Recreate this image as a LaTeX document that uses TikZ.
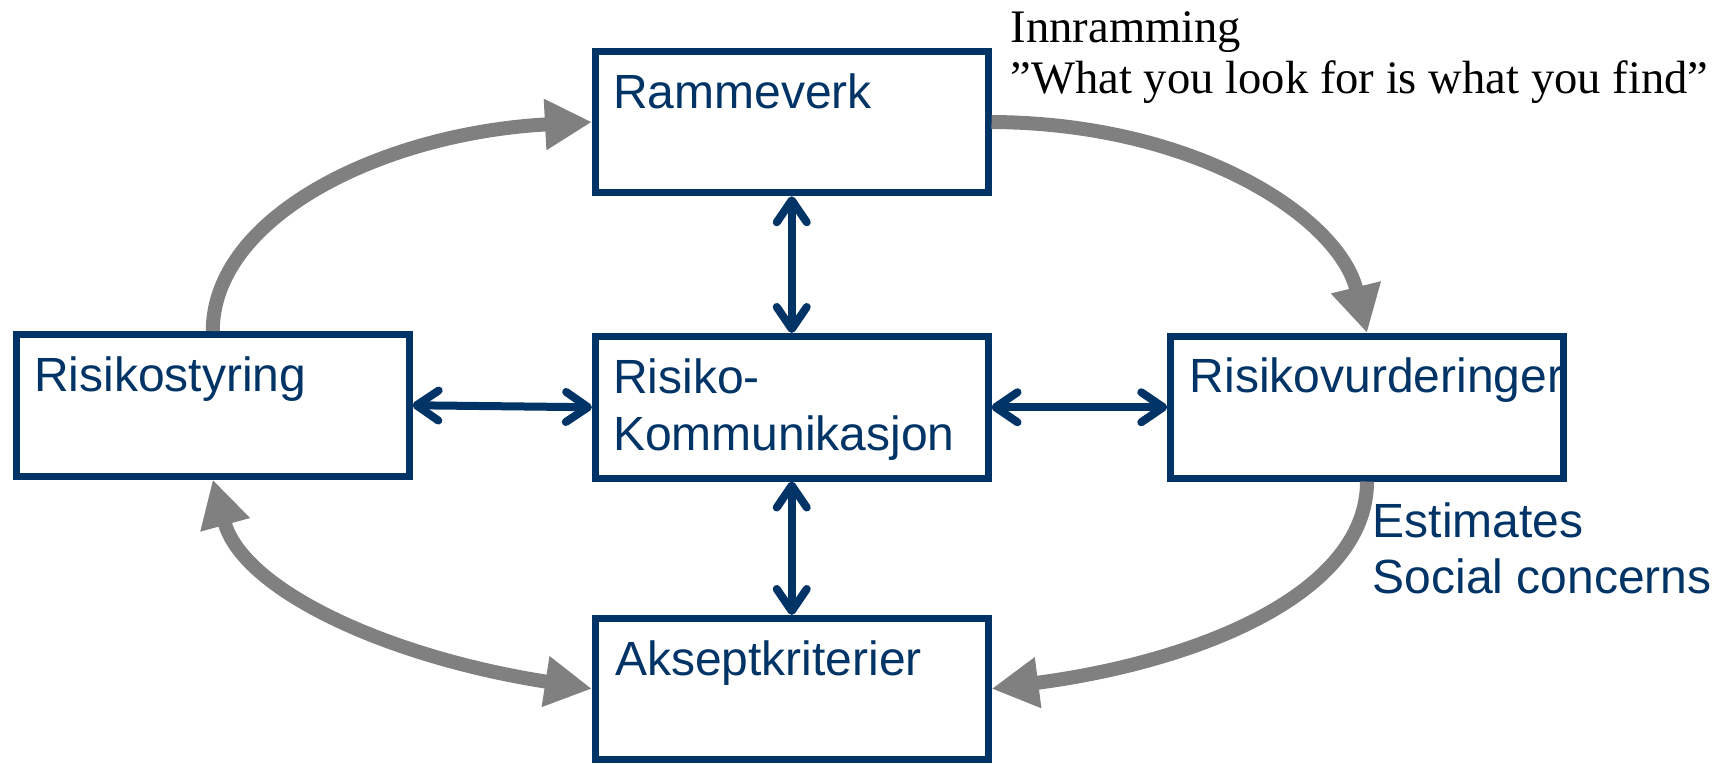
\documentclass[tikz,border=0pt]{standalone}
\usepackage{graphicx}
\usepackage{fontspec}
\setmainfont{Liberation Serif}
\newfontfamily\arialf{Liberation Sans}
\usetikzlibrary{arrows.meta,calc}
\definecolor{navy}{RGB}{0,51,102}
\definecolor{flowgray}{RGB}{128,128,128}
\begin{document}
\begin{tikzpicture}[x=1pt,y=-1pt,
  box/.style={draw=navy,line width=7pt,rectangle,inner sep=0pt,outer sep=3.5pt,
    minimum width=392.5pt,minimum height=141.5pt},
  lbl/.style={inner sep=0pt,anchor=base west,text=navy,font=\arialf\fontsize{48}{57}\selectfont},
  serif/.style={inner sep=0pt,anchor=base west,text=black,font=\fontsize{46.6}{50}\selectfont},
  flow/.style={draw=flowgray,line width=14pt,-{Triangle[length=47pt,width=48pt]}},
  flowboth/.style={draw=flowgray,line width=14pt,{Triangle[length=47pt,width=48pt]}-{Triangle[length=47pt,width=48pt]}},
  link/.style={draw=navy,line width=8pt,line cap=round,
    {Straight Barb[length=22pt,width=30pt,line cap=round,line join=round]}-{Straight Barb[length=22pt,width=30pt,line cap=round,line join=round]}}
]
\useasboundingbox (0,0) rectangle (1736,763);

% texts
\node[lbl] (tram) at (613,108) {Rammeverk};
\node[lbl] (tsty) at (34,391) {Risikostyring};
\node[lbl] (tkomA) at (613,393) {Risiko-};
\node[lbl] (tkomB) at (613,450) {Kommunikasjon};
\node[lbl] (tvur) at (1189.5,392) {Risikovurderinger};
\node[lbl] (taks) at (615,675) {Akseptkriterier};
\node[lbl] (test) at (1372.7,537) {Estimates};
\node[lbl] (tsoc) at (1372.7,593) {Social concerns};
\node[serif] (tinn) at (1010.5,42.7) {Innramming};
\node[serif] (tquo) at (1010.5,93.3) {”What you look for is what you find”};

% boxes
\node[box] (ram) at (791.75,122) {};
\node[box] (sty) at (212.75,405.25) {};
\node[box] (kom) at (791.75,407.25) {};
\node[box] (vur) at (1367,407.25) {};
\node[box,minimum height=140.5pt] (aks) at (791.75,688.75) {};

% gray flow arrows
\draw[flow] (sty.north) .. controls (213,216) and (383,133) .. (ram.west);
\draw[flow] (ram.east) .. controls (1197,123) and (1339,218) .. (vur.north);
\draw[flow] (vur.south) .. controls (1367,594) and (1197,662) .. (aks.east);
\draw[flowboth] (sty.south) .. controls (243,590) and (387,657) .. (aks.west);

% blue links
\draw[link] (ram.south) -- (kom.north);
\draw[link] (kom.south) -- (aks.north);
\draw[link] (sty.east) -- (kom.west);
\draw[link] (kom.east) -- (vur.west);
\end{tikzpicture}
\end{document}
